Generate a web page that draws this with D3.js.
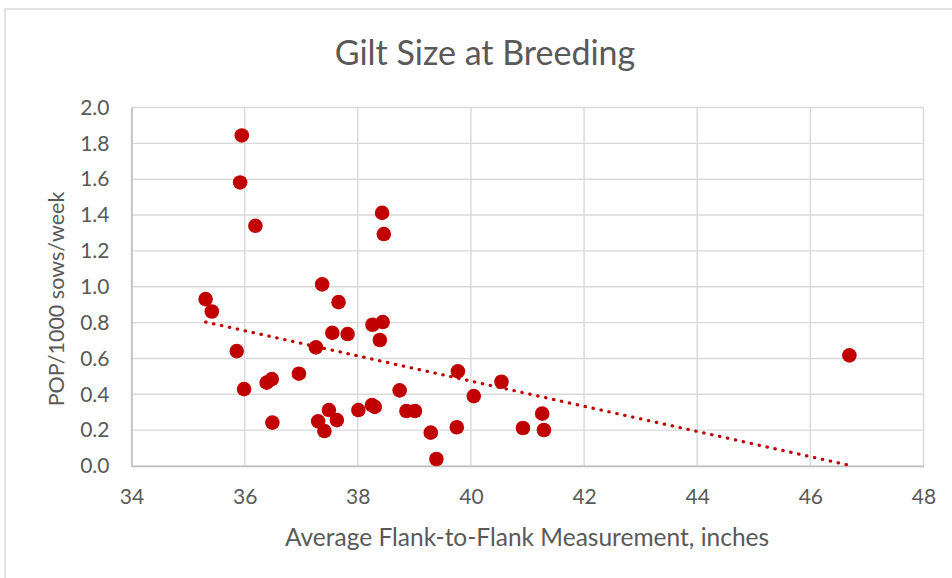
<!DOCTYPE html>
<html>
<head>
<meta charset="utf-8">
<script src="https://cdn.jsdelivr.net/npm/d3@7"></script>
<style>
  html, body { margin: 0; padding: 0; background: #fff; }
  svg { display: block; }
  text { font-family: Lato, "Open Sans", sans-serif; fill: #595959; }
</style>
</head>
<body>
<svg id="chart" width="952" height="578"></svg>
<script>
// Average flank-to-flank measurement (inches) per farm
const flankInches = [
  35.31, 35.42, 35.86, 35.92, 35.95, 35.99, 36.19, 36.39, 36.48, 36.49,
  36.96, 37.26, 37.30, 37.37, 37.41, 37.49, 37.55, 37.63, 37.66, 37.82,
  38.01, 38.25, 38.30, 38.26, 38.39, 38.43, 38.44, 38.46, 38.74, 38.86,
  39.01, 39.29, 39.39, 39.75, 39.77, 40.05, 40.54, 40.92, 41.26, 41.29,
  46.69
];
// POP per 1000 sows per week for the same farms
const popPer1000 = [
  0.931, 0.862, 0.641, 1.582, 1.844, 0.429, 1.340, 0.465, 0.485, 0.242,
  0.515, 0.662, 0.249, 1.013, 0.195, 0.312, 0.743, 0.256, 0.914, 0.736,
  0.312, 0.340, 0.330, 0.788, 0.703, 1.412, 0.803, 1.294, 0.422, 0.307,
  0.307, 0.186, 0.039, 0.216, 0.528, 0.390, 0.470, 0.212, 0.292, 0.201,
  0.617
];
const xTicks = [34, 36, 38, 40, 42, 44, 46, 48];
const yTicks = [0, 0.2, 0.4, 0.6, 0.8, 1.0, 1.2, 1.4, 1.6, 1.8, 2.0];

const chartTitle = "Gilt Size at Breeding";
const xTitle = "Average Flank-to-Flank Measurement, inches";
const yTitle = "POP/1000 sows/week";

const points = flankInches.map((x, i) => ({ x, y: popPer1000[i] }));

const svg = d3.select("#chart");
const plot = { left: 131.5, right: 923.5, top: 107.5, bottom: 466 };

// outer chart border
svg.append("rect")
  .attr("x", 5).attr("y", 9).attr("width", 960).attr("height", 600)
  .attr("fill", "#fff").attr("stroke", "#d9d9d9").attr("stroke-width", 1.5);

const x = d3.scaleLinear().domain([34, 48]).range([plot.left, plot.right]);
const y = d3.scaleLinear().domain([0, 2]).range([plot.bottom, plot.top]);

// gridlines
const grid = svg.append("g");
grid.selectAll(".hg").data(yTicks).join("line")
  .attr("x1", plot.left).attr("x2", plot.right)
  .attr("y1", d => y(d)).attr("y2", d => y(d))
  .attr("stroke", "#d9d9d9").attr("stroke-width", 1.4);
grid.selectAll(".vg").data(xTicks).join("line")
  .attr("x1", d => x(d)).attr("x2", d => x(d))
  .attr("y1", plot.top).attr("y2", plot.bottom)
  .attr("stroke", "#d9d9d9").attr("stroke-width", 1.4);

// axes
const xAxis = svg.append("g")
  .attr("transform", `translate(0,${plot.bottom})`)
  .call(d3.axisBottom(x).tickValues(xTicks).tickSize(0).tickPadding(23).tickFormat(d3.format("d")));
xAxis.select(".domain").attr("stroke", "#bfbfbf").attr("stroke-width", 1.6);
xAxis.selectAll("text").attr("font-size", 21).attr("fill", "#595959")
  .style("font-family", "Lato, sans-serif");

const yAxis = svg.append("g")
  .attr("transform", `translate(${plot.left},0)`)
  .call(d3.axisLeft(y).tickValues(yTicks).tickSize(0).tickPadding(22).tickFormat(d3.format(".1f")));
yAxis.select(".domain").attr("stroke", "#bfbfbf").attr("stroke-width", 1.6);
yAxis.selectAll("text").attr("font-size", 21).attr("fill", "#595959")
  .style("font-family", "Lato, sans-serif");

// linear trendline (least squares) across the data range
const mx = d3.mean(points, d => d.x), my = d3.mean(points, d => d.y);
const slope = d3.sum(points, d => (d.x - mx) * (d.y - my)) / d3.sum(points, d => (d.x - mx) ** 2);
const intercept = my - slope * mx;
const [xmin, xmax] = d3.extent(points, d => d.x);
svg.append("line")
  .attr("x1", x(xmin)).attr("y1", y(intercept + slope * xmin))
  .attr("x2", x(xmax)).attr("y2", y(intercept + slope * xmax))
  .attr("stroke", "#c00000").attr("stroke-width", 3.2)
  .attr("stroke-linecap", "round").attr("stroke-dasharray", "0.4 7.7");

// data points
svg.append("g").selectAll("circle").data(points).join("circle")
  .attr("cx", d => x(d.x)).attr("cy", d => y(d.y)).attr("r", 7.3)
  .attr("fill", "#c00000");

// titles
svg.append("text").attr("x", 485).attr("y", 65).attr("text-anchor", "middle")
  .attr("font-size", 34).text(chartTitle);
svg.append("text").attr("x", 527).attr("y", 546).attr("text-anchor", "middle")
  .attr("font-size", 24.5).text(xTitle);
svg.append("text").attr("transform", "translate(64,299) rotate(-90)")
  .attr("text-anchor", "middle").attr("font-size", 21.5).text(yTitle);
</script>
</body>
</html>
